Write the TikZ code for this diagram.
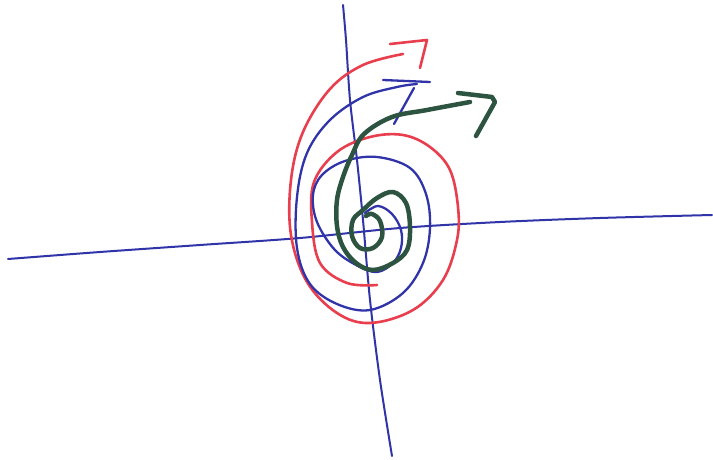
\documentclass[tikz,border=0pt]{standalone}
\begin{document}
\begin{tikzpicture}[x=1pt,y=-1pt,line cap=round,line join=round]
\definecolor{pred}{RGB}{232,62,78}
\definecolor{pblue}{RGB}{48,52,168}
\definecolor{pgreen}{RGB}{44,84,64}
\tikzset{axis/.style={pblue,line width=2pt},
 redsp/.style={pred,line width=2.6pt},
 bluesp/.style={pblue,line width=2.3pt},
 greensp/.style={pgreen,line width=4.5pt}}
\useasboundingbox (0,0) rectangle (713,460);
% axes
\draw[axis] plot[smooth] coordinates {(343,5) (346,40) (350,100) (357,160) (363,220) (370,300) (380,380) (392,456)};
\draw[axis] plot[smooth] coordinates {(8,259) (100,252) (200,245) (300,238) (400,228) (500,222) (600,218) (712,215)};
% red spiral
\draw[redsp] plot[smooth,tension=0.6] coordinates {(377,285) (347,283) (320,263) (312,222) (314,182) (337,152) (370,137) (403,135) (430,147) (450,170) (458,207) (457,240) (443,280) (413,310) (370,323) (337,313) (307,282) (291,235) (291,180) (303,132) (330,89) (363,65) (403,54)};
\draw[redsp] (390,44) -- (427,40) -- (420,68);
% blue spiral
\draw[bluesp] plot[smooth,tension=0.6] coordinates {(365,213) (378,206) (392,214) (401,230) (401,248) (393,263) (377,272) (358,266) (335,250) (317,222) (313,195) (322,175) (345,161) (377,157) (410,168) (426,194) (430,228) (423,263) (403,293) (370,310) (337,304) (310,284) (297,248) (297,197) (307,153) (330,120) (363,97) (397,87) (417,84)};
\draw[bluesp] (383,80) -- (430,82);
\draw[bluesp] (414,88) -- (394,124);
% green spiral
\draw[greensp] plot[smooth,tension=0.6] coordinates {(366,216) (372,214) (380,221) (382,237) (373,248) (360,248) (352,236) (353,220) (363,210) (377,198) (393,192) (406,203) (410,227) (407,250) (393,263) (373,270) (356,263) (343,247) (337,226) (337,200) (343,177) (352,155) (364,134) (392,117) (427,110) (470,102)};
\draw[greensp] (458,93) -- (492,97) -- (495,102) -- (476,136);
\end{tikzpicture}
\end{document}
